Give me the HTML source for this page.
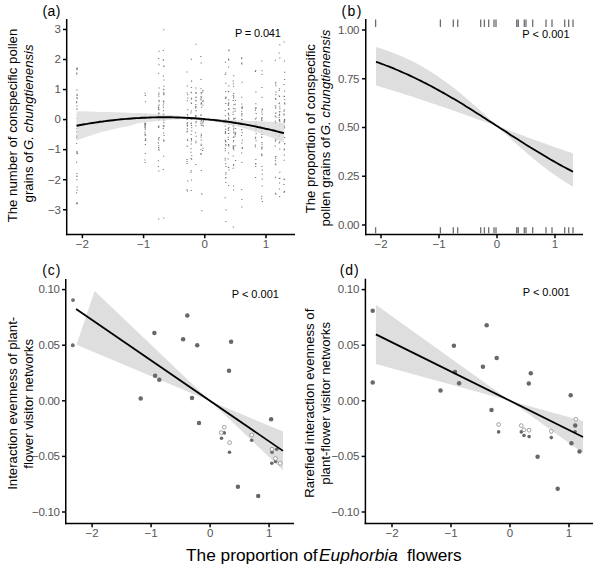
<!DOCTYPE html>
<html><head><meta charset="utf-8"><style>
html,body{margin:0;padding:0;background:#fff;width:600px;height:567px;overflow:hidden}
svg{display:block}
text{font-family:"Liberation Sans", sans-serif}
.tl{font-size:11.5px;fill:#555555}
.pv{font-size:11px;fill:#000}
.pl{font-size:14px;fill:#000}
.yt{font-size:13.2px;fill:#000}
.xt{font-size:17.3px;fill:#000}
</style></head><body>
<svg width="600" height="567" viewBox="0 0 600 567">
<rect width="600" height="567" fill="#fff"/>
<path d="M76.6 67.6h1.2v1.0h-1.2zM76.0 203.6h1.2v1.0h-1.2zM76.1 152.6h1.2v1.0h-1.2zM76.6 189.6h1.2v1.0h-1.2zM76.3 173.1h1.2v1.0h-1.2zM76.6 98.2h1.2v1.0h-1.2zM76.4 108.4h1.2v1.0h-1.2zM76.5 186.4h1.2v1.0h-1.2zM76.0 68.3h1.2v1.0h-1.2zM76.3 179.3h1.2v1.0h-1.2zM76.3 176.0h1.2v1.0h-1.2zM76.6 131.2h1.2v1.0h-1.2zM76.2 108.8h1.2v1.0h-1.2zM76.4 105.5h1.2v1.0h-1.2zM75.9 102.3h1.2v1.0h-1.2zM76.2 128.1h1.2v1.0h-1.2zM76.2 136.2h1.2v1.0h-1.2zM76.0 142.9h1.2v1.0h-1.2zM76.6 203.0h1.2v1.0h-1.2zM76.2 175.4h1.2v1.0h-1.2zM76.7 152.2h1.2v1.0h-1.2zM76.4 202.1h1.2v1.0h-1.2zM76.4 96.9h1.2v1.0h-1.2zM76.4 89.4h1.2v1.0h-1.2zM76.4 150.9h1.2v1.0h-1.2zM76.0 73.6h1.2v1.0h-1.2zM76.3 72.5h1.2v1.0h-1.2zM76.1 137.6h1.2v1.0h-1.2zM76.2 131.0h1.2v1.0h-1.2zM76.0 192.3h1.2v1.0h-1.2zM76.7 153.2h1.2v1.0h-1.2zM76.1 137.5h1.2v1.0h-1.2zM76.4 135.2h1.2v1.0h-1.2zM76.1 101.3h1.2v1.0h-1.2zM76.6 69.2h1.2v1.0h-1.2zM76.4 93.8h1.2v1.0h-1.2zM76.0 161.7h1.2v1.0h-1.2zM76.6 94.9h1.2v1.0h-1.2zM76.7 117.9h1.2v1.0h-1.2zM76.6 68.1h1.2v1.0h-1.2zM144.5 92.8h1.2v1.0h-1.2zM144.6 161.9h1.2v1.0h-1.2zM144.8 94.9h1.2v1.0h-1.2zM144.9 101.3h1.2v1.0h-1.2zM144.3 159.6h1.2v1.0h-1.2zM144.9 138.3h1.2v1.0h-1.2zM144.2 122.4h1.2v1.0h-1.2zM144.8 129.0h1.2v1.0h-1.2zM144.8 153.1h1.2v1.0h-1.2zM144.3 116.6h1.2v1.0h-1.2zM144.5 133.6h1.2v1.0h-1.2zM144.9 140.0h1.2v1.0h-1.2zM144.2 123.8h1.2v1.0h-1.2zM144.7 125.0h1.2v1.0h-1.2zM144.8 143.9h1.2v1.0h-1.2zM144.6 123.1h1.2v1.0h-1.2zM144.8 124.4h1.2v1.0h-1.2zM144.4 131.4h1.2v1.0h-1.2zM144.4 126.4h1.2v1.0h-1.2zM144.5 125.6h1.2v1.0h-1.2zM144.3 115.8h1.2v1.0h-1.2zM144.5 127.6h1.2v1.0h-1.2zM145.0 123.0h1.2v1.0h-1.2zM144.7 140.1h1.2v1.0h-1.2zM144.5 134.6h1.2v1.0h-1.2zM144.4 127.4h1.2v1.0h-1.2zM145.0 134.8h1.2v1.0h-1.2zM144.6 124.1h1.2v1.0h-1.2zM145.0 138.9h1.2v1.0h-1.2zM144.6 127.6h1.2v1.0h-1.2zM144.6 133.9h1.2v1.0h-1.2zM144.9 114.0h1.2v1.0h-1.2zM158.5 50.7h1.2v1.0h-1.2zM158.2 170.6h1.2v1.0h-1.2zM158.5 87.5h1.2v1.0h-1.2zM157.8 166.0h1.2v1.0h-1.2zM157.8 106.6h1.2v1.0h-1.2zM157.8 126.0h1.2v1.0h-1.2zM158.0 126.9h1.2v1.0h-1.2zM158.0 72.7h1.2v1.0h-1.2zM158.0 58.1h1.2v1.0h-1.2zM158.3 100.0h1.2v1.0h-1.2zM157.8 142.3h1.2v1.0h-1.2zM158.3 148.4h1.2v1.0h-1.2zM157.9 138.2h1.2v1.0h-1.2zM158.3 64.3h1.2v1.0h-1.2zM157.8 160.2h1.2v1.0h-1.2zM158.0 146.9h1.2v1.0h-1.2zM158.6 101.3h1.2v1.0h-1.2zM158.2 139.6h1.2v1.0h-1.2zM158.4 109.3h1.2v1.0h-1.2zM158.3 118.4h1.2v1.0h-1.2zM158.3 104.7h1.2v1.0h-1.2zM158.0 107.8h1.2v1.0h-1.2zM158.3 95.8h1.2v1.0h-1.2zM157.8 142.5h1.2v1.0h-1.2zM158.4 116.5h1.2v1.0h-1.2zM158.6 137.1h1.2v1.0h-1.2zM158.5 119.6h1.2v1.0h-1.2zM157.8 106.5h1.2v1.0h-1.2zM158.1 113.3h1.2v1.0h-1.2zM158.1 109.0h1.2v1.0h-1.2zM157.9 119.5h1.2v1.0h-1.2zM158.3 112.4h1.2v1.0h-1.2zM158.4 113.8h1.2v1.0h-1.2zM158.1 93.9h1.2v1.0h-1.2zM158.5 104.4h1.2v1.0h-1.2zM158.4 149.8h1.2v1.0h-1.2zM157.9 106.9h1.2v1.0h-1.2zM158.4 99.9h1.2v1.0h-1.2zM158.5 125.5h1.2v1.0h-1.2zM158.0 145.3h1.2v1.0h-1.2zM158.3 92.5h1.2v1.0h-1.2zM158.3 115.5h1.2v1.0h-1.2zM162.7 50.0h1.2v1.0h-1.2zM162.7 169.0h1.2v1.0h-1.2zM163.3 94.2h1.2v1.0h-1.2zM162.8 114.2h1.2v1.0h-1.2zM162.8 75.6h1.2v1.0h-1.2zM163.3 79.4h1.2v1.0h-1.2zM163.1 89.3h1.2v1.0h-1.2zM162.7 104.4h1.2v1.0h-1.2zM162.9 59.7h1.2v1.0h-1.2zM163.3 139.6h1.2v1.0h-1.2zM162.9 118.9h1.2v1.0h-1.2zM163.2 85.7h1.2v1.0h-1.2zM162.7 59.2h1.2v1.0h-1.2zM163.2 140.8h1.2v1.0h-1.2zM163.2 65.6h1.2v1.0h-1.2zM163.3 65.9h1.2v1.0h-1.2zM163.1 101.0h1.2v1.0h-1.2zM162.9 88.7h1.2v1.0h-1.2zM162.7 128.0h1.2v1.0h-1.2zM163.0 117.6h1.2v1.0h-1.2zM163.2 126.2h1.2v1.0h-1.2zM162.8 100.6h1.2v1.0h-1.2zM162.8 106.7h1.2v1.0h-1.2zM163.0 100.5h1.2v1.0h-1.2zM163.2 102.5h1.2v1.0h-1.2zM163.3 122.3h1.2v1.0h-1.2zM162.7 104.4h1.2v1.0h-1.2zM162.7 125.3h1.2v1.0h-1.2zM163.2 125.0h1.2v1.0h-1.2zM163.1 155.8h1.2v1.0h-1.2zM163.2 93.3h1.2v1.0h-1.2zM163.4 135.0h1.2v1.0h-1.2zM163.4 117.1h1.2v1.0h-1.2zM163.3 118.5h1.2v1.0h-1.2zM163.2 92.2h1.2v1.0h-1.2zM162.9 110.3h1.2v1.0h-1.2zM163.1 132.4h1.2v1.0h-1.2zM162.7 117.2h1.2v1.0h-1.2zM163.2 120.2h1.2v1.0h-1.2zM163.2 113.4h1.2v1.0h-1.2zM163.2 139.9h1.2v1.0h-1.2zM163.0 118.4h1.2v1.0h-1.2zM186.5 71.5h1.2v1.0h-1.2zM186.8 190.6h1.2v1.0h-1.2zM186.4 189.2h1.2v1.0h-1.2zM186.7 85.4h1.2v1.0h-1.2zM186.6 92.6h1.2v1.0h-1.2zM187.0 140.0h1.2v1.0h-1.2zM186.8 124.7h1.2v1.0h-1.2zM186.4 160.9h1.2v1.0h-1.2zM187.2 94.2h1.2v1.0h-1.2zM187.1 180.4h1.2v1.0h-1.2zM187.1 97.4h1.2v1.0h-1.2zM186.6 163.1h1.2v1.0h-1.2zM186.7 128.5h1.2v1.0h-1.2zM186.6 118.9h1.2v1.0h-1.2zM186.5 117.9h1.2v1.0h-1.2zM186.4 158.9h1.2v1.0h-1.2zM186.8 138.8h1.2v1.0h-1.2zM186.5 130.8h1.2v1.0h-1.2zM186.5 123.2h1.2v1.0h-1.2zM187.1 109.2h1.2v1.0h-1.2zM186.8 128.3h1.2v1.0h-1.2zM186.5 145.5h1.2v1.0h-1.2zM186.9 122.3h1.2v1.0h-1.2zM186.6 125.4h1.2v1.0h-1.2zM186.8 125.5h1.2v1.0h-1.2zM186.6 131.5h1.2v1.0h-1.2zM186.8 100.3h1.2v1.0h-1.2zM186.9 125.2h1.2v1.0h-1.2zM186.8 113.9h1.2v1.0h-1.2zM186.7 145.7h1.2v1.0h-1.2zM187.0 115.4h1.2v1.0h-1.2zM187.1 140.1h1.2v1.0h-1.2zM190.8 58.8h1.2v1.0h-1.2zM190.6 190.0h1.2v1.0h-1.2zM191.0 158.7h1.2v1.0h-1.2zM190.4 151.7h1.2v1.0h-1.2zM190.7 170.3h1.2v1.0h-1.2zM190.4 148.2h1.2v1.0h-1.2zM191.1 155.3h1.2v1.0h-1.2zM190.8 98.4h1.2v1.0h-1.2zM190.9 80.8h1.2v1.0h-1.2zM190.5 158.1h1.2v1.0h-1.2zM190.9 80.6h1.2v1.0h-1.2zM190.9 179.4h1.2v1.0h-1.2zM190.8 138.1h1.2v1.0h-1.2zM191.1 127.3h1.2v1.0h-1.2zM190.6 92.2h1.2v1.0h-1.2zM190.6 134.0h1.2v1.0h-1.2zM190.9 86.9h1.2v1.0h-1.2zM191.0 97.8h1.2v1.0h-1.2zM190.6 143.5h1.2v1.0h-1.2zM190.8 140.5h1.2v1.0h-1.2zM190.5 123.2h1.2v1.0h-1.2zM190.7 91.7h1.2v1.0h-1.2zM190.9 118.7h1.2v1.0h-1.2zM190.4 112.5h1.2v1.0h-1.2zM190.9 139.1h1.2v1.0h-1.2zM190.3 171.8h1.2v1.0h-1.2zM191.1 130.6h1.2v1.0h-1.2zM190.7 110.5h1.2v1.0h-1.2zM190.6 102.6h1.2v1.0h-1.2zM190.9 125.1h1.2v1.0h-1.2zM190.7 122.6h1.2v1.0h-1.2zM190.9 103.0h1.2v1.0h-1.2zM195.3 43.7h1.2v1.0h-1.2zM195.2 164.0h1.2v1.0h-1.2zM195.5 110.3h1.2v1.0h-1.2zM195.2 140.8h1.2v1.0h-1.2zM195.3 99.7h1.2v1.0h-1.2zM195.5 118.3h1.2v1.0h-1.2zM195.3 142.2h1.2v1.0h-1.2zM195.2 125.3h1.2v1.0h-1.2zM195.6 120.9h1.2v1.0h-1.2zM195.2 92.6h1.2v1.0h-1.2zM195.6 92.8h1.2v1.0h-1.2zM195.5 135.8h1.2v1.0h-1.2zM195.3 122.2h1.2v1.0h-1.2zM195.5 96.6h1.2v1.0h-1.2zM194.9 106.6h1.2v1.0h-1.2zM195.2 107.4h1.2v1.0h-1.2zM195.6 115.0h1.2v1.0h-1.2zM195.4 106.0h1.2v1.0h-1.2zM195.3 100.6h1.2v1.0h-1.2zM195.4 110.3h1.2v1.0h-1.2zM195.4 96.9h1.2v1.0h-1.2zM195.4 92.1h1.2v1.0h-1.2zM195.2 115.0h1.2v1.0h-1.2zM195.0 132.3h1.2v1.0h-1.2zM195.1 87.6h1.2v1.0h-1.2zM195.1 116.0h1.2v1.0h-1.2zM195.2 103.9h1.2v1.0h-1.2zM200.2 56.0h1.2v1.0h-1.2zM200.7 170.0h1.2v1.0h-1.2zM200.4 98.6h1.2v1.0h-1.2zM200.7 118.2h1.2v1.0h-1.2zM200.5 79.0h1.2v1.0h-1.2zM200.7 92.1h1.2v1.0h-1.2zM200.4 136.5h1.2v1.0h-1.2zM200.6 143.8h1.2v1.0h-1.2zM200.6 62.5h1.2v1.0h-1.2zM200.7 139.5h1.2v1.0h-1.2zM200.4 149.2h1.2v1.0h-1.2zM201.0 106.8h1.2v1.0h-1.2zM200.4 103.5h1.2v1.0h-1.2zM200.4 99.2h1.2v1.0h-1.2zM200.4 88.3h1.2v1.0h-1.2zM200.3 153.1h1.2v1.0h-1.2zM200.5 114.9h1.2v1.0h-1.2zM200.8 124.8h1.2v1.0h-1.2zM200.8 120.0h1.2v1.0h-1.2zM200.4 123.3h1.2v1.0h-1.2zM200.3 121.4h1.2v1.0h-1.2zM200.5 154.0h1.2v1.0h-1.2zM200.8 102.3h1.2v1.0h-1.2zM200.6 93.2h1.2v1.0h-1.2zM200.9 102.8h1.2v1.0h-1.2zM200.7 97.1h1.2v1.0h-1.2zM200.7 133.6h1.2v1.0h-1.2zM200.8 134.9h1.2v1.0h-1.2zM200.8 103.6h1.2v1.0h-1.2zM200.5 96.1h1.2v1.0h-1.2zM200.4 114.3h1.2v1.0h-1.2zM200.6 144.9h1.2v1.0h-1.2zM202.4 90.0h1.2v1.0h-1.2zM202.0 150.0h1.2v1.0h-1.2zM202.4 147.7h1.2v1.0h-1.2zM202.1 91.5h1.2v1.0h-1.2zM202.2 101.0h1.2v1.0h-1.2zM202.6 99.9h1.2v1.0h-1.2zM202.1 118.3h1.2v1.0h-1.2zM202.5 121.3h1.2v1.0h-1.2zM202.3 104.8h1.2v1.0h-1.2zM202.3 124.8h1.2v1.0h-1.2zM202.7 125.4h1.2v1.0h-1.2zM202.1 122.5h1.2v1.0h-1.2zM202.7 120.1h1.2v1.0h-1.2zM202.7 120.6h1.2v1.0h-1.2zM224.8 61.7h1.2v1.0h-1.2zM225.3 221.0h1.2v1.0h-1.2zM225.1 177.1h1.2v1.0h-1.2zM225.3 172.2h1.2v1.0h-1.2zM224.9 128.8h1.2v1.0h-1.2zM224.6 197.3h1.2v1.0h-1.2zM225.2 182.1h1.2v1.0h-1.2zM224.8 115.3h1.2v1.0h-1.2zM224.7 74.0h1.2v1.0h-1.2zM225.2 82.8h1.2v1.0h-1.2zM225.1 91.1h1.2v1.0h-1.2zM224.8 110.1h1.2v1.0h-1.2zM224.8 133.0h1.2v1.0h-1.2zM225.4 209.5h1.2v1.0h-1.2zM224.8 150.3h1.2v1.0h-1.2zM225.2 145.2h1.2v1.0h-1.2zM224.7 139.7h1.2v1.0h-1.2zM225.3 97.6h1.2v1.0h-1.2zM224.7 147.9h1.2v1.0h-1.2zM225.0 163.3h1.2v1.0h-1.2zM224.6 159.4h1.2v1.0h-1.2zM225.0 140.4h1.2v1.0h-1.2zM225.3 96.5h1.2v1.0h-1.2zM224.7 157.8h1.2v1.0h-1.2zM224.8 131.1h1.2v1.0h-1.2zM225.2 72.6h1.2v1.0h-1.2zM225.1 143.9h1.2v1.0h-1.2zM224.9 98.1h1.2v1.0h-1.2zM225.1 102.9h1.2v1.0h-1.2zM225.0 119.1h1.2v1.0h-1.2zM225.3 165.9h1.2v1.0h-1.2zM224.8 125.6h1.2v1.0h-1.2zM225.2 141.3h1.2v1.0h-1.2zM225.1 177.5h1.2v1.0h-1.2zM225.2 173.7h1.2v1.0h-1.2zM224.9 132.1h1.2v1.0h-1.2zM225.2 128.8h1.2v1.0h-1.2zM228.3 49.5h1.2v1.0h-1.2zM228.0 185.0h1.2v1.0h-1.2zM228.0 66.4h1.2v1.0h-1.2zM228.4 169.4h1.2v1.0h-1.2zM227.9 113.7h1.2v1.0h-1.2zM227.6 158.5h1.2v1.0h-1.2zM227.9 58.5h1.2v1.0h-1.2zM227.7 130.1h1.2v1.0h-1.2zM227.7 166.7h1.2v1.0h-1.2zM228.1 167.0h1.2v1.0h-1.2zM228.4 50.3h1.2v1.0h-1.2zM228.1 120.2h1.2v1.0h-1.2zM228.1 99.5h1.2v1.0h-1.2zM227.9 152.5h1.2v1.0h-1.2zM228.1 59.4h1.2v1.0h-1.2zM228.2 85.4h1.2v1.0h-1.2zM228.1 102.5h1.2v1.0h-1.2zM228.2 118.7h1.2v1.0h-1.2zM228.0 118.5h1.2v1.0h-1.2zM227.8 139.0h1.2v1.0h-1.2zM228.1 144.4h1.2v1.0h-1.2zM228.0 91.2h1.2v1.0h-1.2zM227.7 103.5h1.2v1.0h-1.2zM228.1 129.6h1.2v1.0h-1.2zM228.3 108.9h1.2v1.0h-1.2zM227.7 90.9h1.2v1.0h-1.2zM228.0 144.3h1.2v1.0h-1.2zM228.2 132.9h1.2v1.0h-1.2zM227.9 132.9h1.2v1.0h-1.2zM227.8 112.7h1.2v1.0h-1.2zM227.9 144.1h1.2v1.0h-1.2zM228.0 117.6h1.2v1.0h-1.2zM228.1 145.5h1.2v1.0h-1.2zM228.0 103.6h1.2v1.0h-1.2zM227.7 104.8h1.2v1.0h-1.2zM228.3 126.9h1.2v1.0h-1.2zM228.3 108.0h1.2v1.0h-1.2zM227.7 136.7h1.2v1.0h-1.2zM227.8 128.0h1.2v1.0h-1.2zM227.7 103.4h1.2v1.0h-1.2zM228.3 124.1h1.2v1.0h-1.2zM228.3 115.3h1.2v1.0h-1.2zM233.1 75.3h1.2v1.0h-1.2zM232.8 226.6h1.2v1.0h-1.2zM233.2 96.3h1.2v1.0h-1.2zM233.2 118.4h1.2v1.0h-1.2zM232.7 83.2h1.2v1.0h-1.2zM233.1 108.1h1.2v1.0h-1.2zM232.7 95.0h1.2v1.0h-1.2zM232.6 145.6h1.2v1.0h-1.2zM232.9 129.2h1.2v1.0h-1.2zM233.0 164.1h1.2v1.0h-1.2zM233.2 117.8h1.2v1.0h-1.2zM232.6 80.4h1.2v1.0h-1.2zM233.1 125.4h1.2v1.0h-1.2zM232.9 189.6h1.2v1.0h-1.2zM232.6 114.0h1.2v1.0h-1.2zM233.3 136.5h1.2v1.0h-1.2zM233.1 149.6h1.2v1.0h-1.2zM232.6 155.4h1.2v1.0h-1.2zM233.2 131.5h1.2v1.0h-1.2zM232.6 100.1h1.2v1.0h-1.2zM232.6 148.0h1.2v1.0h-1.2zM232.8 122.2h1.2v1.0h-1.2zM233.3 131.8h1.2v1.0h-1.2zM232.5 125.4h1.2v1.0h-1.2zM233.2 131.5h1.2v1.0h-1.2zM233.0 85.7h1.2v1.0h-1.2zM232.6 167.8h1.2v1.0h-1.2zM233.0 145.4h1.2v1.0h-1.2zM232.9 165.3h1.2v1.0h-1.2zM233.0 185.6h1.2v1.0h-1.2zM233.1 140.0h1.2v1.0h-1.2zM233.0 97.5h1.2v1.0h-1.2zM233.3 118.7h1.2v1.0h-1.2zM232.6 111.4h1.2v1.0h-1.2zM233.2 127.8h1.2v1.0h-1.2zM232.8 141.3h1.2v1.0h-1.2zM233.1 92.9h1.2v1.0h-1.2zM233.2 147.4h1.2v1.0h-1.2zM233.3 104.3h1.2v1.0h-1.2zM232.7 146.4h1.2v1.0h-1.2zM232.9 136.9h1.2v1.0h-1.2zM233.3 132.2h1.2v1.0h-1.2zM234.9 100.0h1.2v1.0h-1.2zM235.0 160.0h1.2v1.0h-1.2zM234.6 108.4h1.2v1.0h-1.2zM234.6 103.7h1.2v1.0h-1.2zM234.6 145.2h1.2v1.0h-1.2zM234.6 133.9h1.2v1.0h-1.2zM235.0 120.5h1.2v1.0h-1.2zM234.7 117.8h1.2v1.0h-1.2zM234.7 133.0h1.2v1.0h-1.2zM234.9 123.0h1.2v1.0h-1.2zM234.5 110.7h1.2v1.0h-1.2zM234.5 135.4h1.2v1.0h-1.2zM235.0 128.0h1.2v1.0h-1.2zM235.0 132.3h1.2v1.0h-1.2zM241.1 57.3h1.2v1.0h-1.2zM241.2 206.5h1.2v1.0h-1.2zM241.3 199.1h1.2v1.0h-1.2zM241.1 63.6h1.2v1.0h-1.2zM241.0 135.1h1.2v1.0h-1.2zM241.7 147.0h1.2v1.0h-1.2zM241.3 162.1h1.2v1.0h-1.2zM241.2 107.4h1.2v1.0h-1.2zM241.6 106.2h1.2v1.0h-1.2zM241.0 57.9h1.2v1.0h-1.2zM241.2 62.6h1.2v1.0h-1.2zM241.8 139.4h1.2v1.0h-1.2zM241.7 113.5h1.2v1.0h-1.2zM241.5 132.1h1.2v1.0h-1.2zM241.1 115.2h1.2v1.0h-1.2zM241.3 142.6h1.2v1.0h-1.2zM241.0 113.3h1.2v1.0h-1.2zM241.2 129.1h1.2v1.0h-1.2zM241.0 152.4h1.2v1.0h-1.2zM241.1 189.0h1.2v1.0h-1.2zM241.5 106.8h1.2v1.0h-1.2zM241.1 119.3h1.2v1.0h-1.2zM241.1 110.7h1.2v1.0h-1.2zM241.7 148.0h1.2v1.0h-1.2zM241.3 103.6h1.2v1.0h-1.2zM241.3 118.8h1.2v1.0h-1.2zM241.1 129.3h1.2v1.0h-1.2zM241.6 107.5h1.2v1.0h-1.2zM241.5 108.0h1.2v1.0h-1.2zM241.4 119.0h1.2v1.0h-1.2zM241.5 81.7h1.2v1.0h-1.2zM241.1 96.8h1.2v1.0h-1.2zM255.1 70.0h1.2v1.0h-1.2zM255.0 177.0h1.2v1.0h-1.2zM255.6 113.1h1.2v1.0h-1.2zM255.2 103.3h1.2v1.0h-1.2zM254.9 124.1h1.2v1.0h-1.2zM254.8 70.9h1.2v1.0h-1.2zM255.6 117.4h1.2v1.0h-1.2zM255.3 91.4h1.2v1.0h-1.2zM254.8 146.2h1.2v1.0h-1.2zM255.2 123.8h1.2v1.0h-1.2zM255.2 163.0h1.2v1.0h-1.2zM255.1 165.9h1.2v1.0h-1.2zM255.6 123.9h1.2v1.0h-1.2zM255.6 133.3h1.2v1.0h-1.2zM254.9 138.0h1.2v1.0h-1.2zM254.9 118.6h1.2v1.0h-1.2zM255.1 130.8h1.2v1.0h-1.2zM255.5 121.2h1.2v1.0h-1.2zM255.3 127.7h1.2v1.0h-1.2zM255.4 123.6h1.2v1.0h-1.2zM255.3 107.0h1.2v1.0h-1.2zM255.0 125.4h1.2v1.0h-1.2zM255.5 140.2h1.2v1.0h-1.2zM254.8 109.8h1.2v1.0h-1.2zM255.4 121.8h1.2v1.0h-1.2zM255.0 136.7h1.2v1.0h-1.2zM255.2 108.1h1.2v1.0h-1.2zM255.6 128.8h1.2v1.0h-1.2zM255.2 108.3h1.2v1.0h-1.2zM254.8 144.4h1.2v1.0h-1.2zM255.1 163.8h1.2v1.0h-1.2zM255.3 159.0h1.2v1.0h-1.2zM261.1 60.4h1.2v1.0h-1.2zM261.8 201.0h1.2v1.0h-1.2zM261.2 136.6h1.2v1.0h-1.2zM261.7 113.7h1.2v1.0h-1.2zM261.7 109.6h1.2v1.0h-1.2zM261.5 70.2h1.2v1.0h-1.2zM261.4 96.7h1.2v1.0h-1.2zM261.2 148.0h1.2v1.0h-1.2zM261.4 74.1h1.2v1.0h-1.2zM261.2 154.5h1.2v1.0h-1.2zM261.1 195.7h1.2v1.0h-1.2zM261.1 198.3h1.2v1.0h-1.2zM261.6 185.4h1.2v1.0h-1.2zM261.7 173.8h1.2v1.0h-1.2zM261.1 137.0h1.2v1.0h-1.2zM261.0 128.7h1.2v1.0h-1.2zM261.2 117.8h1.2v1.0h-1.2zM261.1 118.7h1.2v1.0h-1.2zM261.2 130.8h1.2v1.0h-1.2zM261.5 130.0h1.2v1.0h-1.2zM261.3 117.1h1.2v1.0h-1.2zM261.3 120.1h1.2v1.0h-1.2zM261.2 153.4h1.2v1.0h-1.2zM261.5 134.0h1.2v1.0h-1.2zM261.2 148.5h1.2v1.0h-1.2zM261.3 155.3h1.2v1.0h-1.2zM261.4 142.1h1.2v1.0h-1.2zM261.7 178.5h1.2v1.0h-1.2zM261.2 111.5h1.2v1.0h-1.2zM261.6 146.8h1.2v1.0h-1.2zM261.2 122.5h1.2v1.0h-1.2zM261.7 169.5h1.2v1.0h-1.2zM261.3 166.1h1.2v1.0h-1.2zM261.4 87.1h1.2v1.0h-1.2zM261.7 108.4h1.2v1.0h-1.2zM261.5 143.7h1.2v1.0h-1.2zM261.1 146.4h1.2v1.0h-1.2zM274.8 59.8h1.2v1.0h-1.2zM275.3 193.8h1.2v1.0h-1.2zM274.9 157.8h1.2v1.0h-1.2zM275.2 94.2h1.2v1.0h-1.2zM274.9 192.7h1.2v1.0h-1.2zM275.3 156.3h1.2v1.0h-1.2zM275.4 116.6h1.2v1.0h-1.2zM274.6 115.4h1.2v1.0h-1.2zM275.4 164.2h1.2v1.0h-1.2zM275.1 83.3h1.2v1.0h-1.2zM274.7 145.5h1.2v1.0h-1.2zM275.0 156.1h1.2v1.0h-1.2zM274.6 129.0h1.2v1.0h-1.2zM275.0 176.8h1.2v1.0h-1.2zM274.7 122.6h1.2v1.0h-1.2zM274.9 122.1h1.2v1.0h-1.2zM274.8 122.8h1.2v1.0h-1.2zM275.1 81.7h1.2v1.0h-1.2zM275.3 135.1h1.2v1.0h-1.2zM275.3 112.4h1.2v1.0h-1.2zM274.9 112.7h1.2v1.0h-1.2zM275.1 122.9h1.2v1.0h-1.2zM274.6 133.0h1.2v1.0h-1.2zM274.9 97.9h1.2v1.0h-1.2zM275.4 91.4h1.2v1.0h-1.2zM274.7 105.4h1.2v1.0h-1.2zM275.3 85.3h1.2v1.0h-1.2zM275.1 107.5h1.2v1.0h-1.2zM274.8 160.2h1.2v1.0h-1.2zM275.2 105.6h1.2v1.0h-1.2zM274.8 140.8h1.2v1.0h-1.2zM275.3 99.1h1.2v1.0h-1.2zM274.7 133.6h1.2v1.0h-1.2zM274.7 120.8h1.2v1.0h-1.2zM275.2 126.2h1.2v1.0h-1.2zM275.0 139.1h1.2v1.0h-1.2zM274.7 163.6h1.2v1.0h-1.2zM275.0 131.4h1.2v1.0h-1.2zM274.8 130.0h1.2v1.0h-1.2zM275.0 107.3h1.2v1.0h-1.2zM275.2 139.4h1.2v1.0h-1.2zM275.3 122.3h1.2v1.0h-1.2zM279.2 44.3h1.2v1.0h-1.2zM279.1 196.0h1.2v1.0h-1.2zM278.9 88.3h1.2v1.0h-1.2zM279.2 57.5h1.2v1.0h-1.2zM278.9 114.4h1.2v1.0h-1.2zM279.3 177.8h1.2v1.0h-1.2zM278.7 135.0h1.2v1.0h-1.2zM278.6 52.4h1.2v1.0h-1.2zM279.2 111.1h1.2v1.0h-1.2zM278.7 102.6h1.2v1.0h-1.2zM279.2 132.7h1.2v1.0h-1.2zM279.0 133.4h1.2v1.0h-1.2zM278.9 188.6h1.2v1.0h-1.2zM278.6 95.6h1.2v1.0h-1.2zM279.1 106.2h1.2v1.0h-1.2zM278.6 137.4h1.2v1.0h-1.2zM279.3 108.2h1.2v1.0h-1.2zM279.2 171.7h1.2v1.0h-1.2zM278.7 178.0h1.2v1.0h-1.2zM278.6 89.9h1.2v1.0h-1.2zM279.2 131.1h1.2v1.0h-1.2zM278.9 182.6h1.2v1.0h-1.2zM278.6 142.4h1.2v1.0h-1.2zM278.9 129.2h1.2v1.0h-1.2zM278.7 119.2h1.2v1.0h-1.2zM278.8 111.4h1.2v1.0h-1.2zM279.0 119.1h1.2v1.0h-1.2zM279.2 111.2h1.2v1.0h-1.2zM279.1 141.5h1.2v1.0h-1.2zM278.6 114.8h1.2v1.0h-1.2zM278.9 113.8h1.2v1.0h-1.2zM278.9 96.0h1.2v1.0h-1.2zM279.3 122.9h1.2v1.0h-1.2zM278.6 103.2h1.2v1.0h-1.2zM278.9 119.9h1.2v1.0h-1.2zM279.2 148.4h1.2v1.0h-1.2zM278.8 132.6h1.2v1.0h-1.2zM278.7 135.9h1.2v1.0h-1.2zM278.9 132.4h1.2v1.0h-1.2zM278.8 125.5h1.2v1.0h-1.2zM279.2 121.1h1.2v1.0h-1.2zM278.6 116.9h1.2v1.0h-1.2zM283.5 41.4h1.2v1.0h-1.2zM283.4 191.7h1.2v1.0h-1.2zM284.1 99.1h1.2v1.0h-1.2zM283.9 191.1h1.2v1.0h-1.2zM283.9 125.5h1.2v1.0h-1.2zM284.0 119.8h1.2v1.0h-1.2zM283.4 183.9h1.2v1.0h-1.2zM283.5 84.1h1.2v1.0h-1.2zM283.8 191.6h1.2v1.0h-1.2zM283.4 178.5h1.2v1.0h-1.2zM283.8 96.1h1.2v1.0h-1.2zM284.0 90.6h1.2v1.0h-1.2zM283.9 60.4h1.2v1.0h-1.2zM283.9 179.0h1.2v1.0h-1.2zM283.4 95.7h1.2v1.0h-1.2zM283.6 159.7h1.2v1.0h-1.2zM284.1 71.7h1.2v1.0h-1.2zM283.5 114.5h1.2v1.0h-1.2zM283.8 127.3h1.2v1.0h-1.2zM283.4 113.6h1.2v1.0h-1.2zM284.2 103.6h1.2v1.0h-1.2zM283.5 120.9h1.2v1.0h-1.2zM283.7 122.2h1.2v1.0h-1.2zM283.8 120.4h1.2v1.0h-1.2zM284.0 78.9h1.2v1.0h-1.2zM284.1 118.9h1.2v1.0h-1.2zM284.0 102.5h1.2v1.0h-1.2zM283.7 109.6h1.2v1.0h-1.2zM283.5 127.5h1.2v1.0h-1.2zM284.0 137.1h1.2v1.0h-1.2zM284.2 143.0h1.2v1.0h-1.2zM283.4 110.8h1.2v1.0h-1.2zM284.0 143.6h1.2v1.0h-1.2zM283.5 149.4h1.2v1.0h-1.2zM283.8 148.6h1.2v1.0h-1.2zM283.8 154.4h1.2v1.0h-1.2zM283.9 118.9h1.2v1.0h-1.2z" fill="#7a7a7a"/>
<path d="M158 218.5h1.4v1.1h-1.4zM163 217.5h1.4v1.1h-1.4zM163 29.2h1.4v1.1h-1.4zM201 193.3h1.4v1.1h-1.4zM201 210.2h1.4v1.1h-1.4z" fill="#8a8a8a"/>
<polygon points="76.5,111.2 79.1,111.2 81.8,111.3 84.4,111.3 87.0,111.4 89.6,111.5 92.3,111.6 94.9,111.8 97.5,111.9 100.1,112.0 102.8,112.0 105.4,112.1 108.0,112.1 110.6,112.1 113.3,112.2 115.9,112.2 118.5,112.3 121.2,112.4 123.8,112.6 126.4,112.7 129.0,112.8 131.7,112.9 134.3,113.0 136.9,113.0 139.5,113.1 142.2,113.2 144.8,113.3 147.4,113.5 150.0,113.6 152.7,113.8 155.3,114.0 157.9,114.2 160.6,114.4 163.2,114.5 165.8,114.7 168.4,114.9 171.1,115.1 173.7,115.4 176.3,115.6 178.9,115.9 181.6,116.2 184.2,116.5 186.8,116.7 189.4,116.8 192.1,117.0 194.7,117.1 197.3,117.3 199.9,117.5 202.6,117.7 205.2,118.0 207.8,118.2 210.5,118.4 213.1,118.6 215.7,118.7 218.3,118.9 221.0,119.1 223.6,119.3 226.2,119.5 228.8,119.7 231.5,120.0 234.1,120.2 236.7,120.4 239.3,120.4 242.0,120.5 244.6,120.6 247.2,120.8 249.9,120.9 252.5,121.0 255.1,121.1 257.7,121.2 260.4,121.3 263.0,121.4 265.6,121.6 268.2,121.7 270.9,121.9 273.5,122.1 276.1,122.3 278.7,122.5 281.4,122.7 284.0,122.9 284.0,142.5 281.4,141.5 278.7,140.4 276.1,139.4 273.5,138.4 270.9,137.4 268.2,136.4 265.6,135.4 263.0,134.4 260.4,133.5 257.7,132.6 255.1,131.7 252.5,130.8 249.9,130.0 247.2,129.2 244.6,128.4 242.0,127.7 239.3,127.0 236.7,126.3 234.1,125.6 231.5,125.0 228.8,124.5 226.2,123.9 223.6,123.4 221.0,122.8 218.3,122.3 215.7,121.8 213.1,121.4 210.5,120.9 207.8,120.6 205.2,120.4 202.6,120.1 199.9,119.9 197.3,119.7 194.7,119.5 192.1,119.4 189.4,119.2 186.8,119.1 184.2,119.0 181.6,119.1 178.9,119.3 176.3,119.5 173.7,119.6 171.1,119.8 168.4,120.0 165.8,120.3 163.2,120.5 160.6,120.8 157.9,121.0 155.3,121.2 152.7,121.4 150.0,121.7 147.4,121.9 144.8,122.2 142.2,122.5 139.5,122.9 136.9,123.6 134.3,124.4 131.7,125.2 129.0,125.9 126.4,126.4 123.8,126.9 121.2,127.5 118.5,128.1 115.9,128.7 113.3,129.3 110.6,129.9 108.0,130.5 105.4,131.2 102.8,131.8 100.1,132.5 97.5,133.3 94.9,134.2 92.3,135.0 89.6,135.9 87.0,136.8 84.4,137.7 81.8,138.6 79.1,139.5 76.5,140.5" fill="#DEDEDE" fill-opacity="0.85"/>
<polyline points="76.5,125.8 79.1,125.3 81.8,124.8 84.4,124.3 87.0,123.9 89.6,123.4 92.3,123.0 94.9,122.6 97.5,122.2 100.1,121.8 102.8,121.5 105.4,121.1 108.0,120.8 110.6,120.5 113.3,120.2 115.9,119.9 118.5,119.6 121.2,119.3 123.8,119.1 126.4,118.9 129.0,118.7 131.7,118.5 134.3,118.3 136.9,118.1 139.5,118.0 142.2,117.8 144.8,117.7 147.4,117.6 150.0,117.5 152.7,117.4 155.3,117.4 157.9,117.3 160.6,117.3 163.2,117.3 165.8,117.3 168.4,117.3 171.1,117.3 173.7,117.4 176.3,117.5 178.9,117.5 181.6,117.6 184.2,117.7 186.8,117.9 189.4,118.0 192.1,118.2 194.7,118.3 197.3,118.5 199.9,118.7 202.6,118.9 205.2,119.2 207.8,119.4 210.5,119.7 213.1,119.9 215.7,120.2 218.3,120.5 221.0,120.9 223.6,121.2 226.2,121.5 228.8,121.9 231.5,122.3 234.1,122.7 236.7,123.1 239.3,123.5 242.0,124.0 244.6,124.4 247.2,124.9 249.9,125.4 252.5,125.9 255.1,126.4 257.7,127.0 260.4,127.5 263.0,128.1 265.6,128.7 268.2,129.2 270.9,129.9 273.5,130.5 276.1,131.1 278.7,131.8 281.4,132.5 284.0,133.1" fill="none" stroke="#000" stroke-width="1.9"/>
<line x1="66.7" y1="19" x2="66.7" y2="235.2" stroke="#000" stroke-width="1.5"/>
<line x1="63.0" y1="29.44999999999999" x2="66.7" y2="29.44999999999999" stroke="#000" stroke-width="1.5"/>
<text x="60.599999999999994" y="33.249999999999986" text-anchor="end" class="tl" letter-spacing="-0.3">3</text>
<line x1="63.0" y1="59.49999999999999" x2="66.7" y2="59.49999999999999" stroke="#000" stroke-width="1.5"/>
<text x="60.599999999999994" y="63.29999999999999" text-anchor="end" class="tl" letter-spacing="-0.3">2</text>
<line x1="63.0" y1="89.55" x2="66.7" y2="89.55" stroke="#000" stroke-width="1.5"/>
<text x="60.599999999999994" y="93.35" text-anchor="end" class="tl" letter-spacing="-0.3">1</text>
<line x1="63.0" y1="119.6" x2="66.7" y2="119.6" stroke="#000" stroke-width="1.5"/>
<text x="60.599999999999994" y="123.39999999999999" text-anchor="end" class="tl" letter-spacing="-0.3">0</text>
<line x1="63.0" y1="149.65" x2="66.7" y2="149.65" stroke="#000" stroke-width="1.5"/>
<text x="60.599999999999994" y="153.45000000000002" text-anchor="end" class="tl" letter-spacing="-0.3">−1</text>
<line x1="63.0" y1="179.7" x2="66.7" y2="179.7" stroke="#000" stroke-width="1.5"/>
<text x="60.599999999999994" y="183.5" text-anchor="end" class="tl" letter-spacing="-0.3">−2</text>
<line x1="63.0" y1="209.75" x2="66.7" y2="209.75" stroke="#000" stroke-width="1.5"/>
<text x="60.599999999999994" y="213.55" text-anchor="end" class="tl" letter-spacing="-0.3">−3</text>
<line x1="66.0" y1="234.5" x2="295" y2="234.5" stroke="#000" stroke-width="1.5"/>
<line x1="82.4" y1="234.5" x2="82.4" y2="238.2" stroke="#000" stroke-width="1.5"/>
<text x="82.4" y="248.2" text-anchor="middle" class="tl">−2</text>
<line x1="143.60000000000002" y1="234.5" x2="143.60000000000002" y2="238.2" stroke="#000" stroke-width="1.5"/>
<text x="143.60000000000002" y="248.2" text-anchor="middle" class="tl">−1</text>
<line x1="204.8" y1="234.5" x2="204.8" y2="238.2" stroke="#000" stroke-width="1.5"/>
<text x="204.8" y="248.2" text-anchor="middle" class="tl">0</text>
<line x1="266.0" y1="234.5" x2="266.0" y2="238.2" stroke="#000" stroke-width="1.5"/>
<text x="266.0" y="248.2" text-anchor="middle" class="tl">1</text>
<text x="280.8" y="37.2" text-anchor="end" class="pv" letter-spacing="-0.15">P = 0.041</text>
<text x="42.6" y="16.4" class="pl" letter-spacing="0.3">(a)</text>
<text transform="translate(17.3,125.5) rotate(-90)" text-anchor="middle" class="yt">The number of conspecific pollen</text>
<text transform="translate(33.3,123.4) rotate(-90)" text-anchor="middle" class="yt">grains of<tspan dx="1.8" font-style="italic">G. chungtienensis</tspan></text>
<path d="M375.6 19.5V27M375.6 227.3V233.3M440.4 19.5V27M440.4 227.3V233.3M453.3 19.5V27M453.3 227.3V233.3M457.7 19.5V27M457.7 227.3V233.3M480.7 19.5V27M480.7 227.3V233.3M484.4 19.5V27M484.4 227.3V233.3M488.7 19.5V27M488.7 227.3V233.3M494 19.5V27M494 227.3V233.3M496 19.5V27M496 227.3V233.3M516.7 19.5V27M516.7 227.3V233.3M518.3 19.5V27M518.3 227.3V233.3M524.3 19.5V27M524.3 227.3V233.3M526 19.5V27M526 227.3V233.3M532.7 19.5V27M532.7 227.3V233.3M546 19.5V27M546 227.3V233.3M552 19.5V27M552 227.3V233.3M564.7 19.5V27M564.7 227.3V233.3M568.7 19.5V27M568.7 227.3V233.3M573 19.5V27M573 227.3V233.3" stroke="#6e6e6e" stroke-width="1.3" fill="none"/>
<polygon points="376.0,46.9 378.5,47.7 381.0,48.5 383.5,49.3 386.0,50.2 388.5,51.0 391.0,51.9 393.5,52.9 396.0,53.9 398.5,54.9 400.9,56.0 403.4,57.1 405.9,58.2 408.4,59.4 410.9,60.6 413.4,61.8 415.9,63.1 418.4,64.5 420.9,65.8 423.4,67.3 425.9,68.7 428.4,70.2 430.9,71.8 433.4,73.4 435.9,75.0 438.3,76.7 440.8,78.4 443.3,80.2 445.8,82.0 448.3,83.8 450.8,85.7 453.3,87.6 455.8,89.6 458.3,91.6 460.8,93.6 463.3,95.7 465.8,97.7 468.3,99.9 470.8,102.0 473.2,104.2 475.7,106.4 478.2,108.6 480.7,110.9 483.2,113.1 485.7,115.4 488.2,117.7 490.7,119.9 493.2,122.1 495.7,124.1 498.2,125.8 500.7,127.0 503.2,128.1 505.7,129.1 508.2,130.0 510.6,131.0 513.1,131.9 515.6,132.8 518.1,133.8 520.6,134.7 523.1,135.6 525.6,136.5 528.1,137.4 530.6,138.4 533.1,139.3 535.6,140.2 538.1,141.1 540.6,142.0 543.1,142.9 545.6,143.8 548.0,144.7 550.5,145.6 553.0,146.5 555.5,147.4 558.0,148.3 560.5,149.1 563.0,150.0 565.5,150.9 568.0,151.7 570.5,152.6 573.0,153.5 573.0,186.8 570.5,185.3 568.0,183.8 565.5,182.2 563.0,180.6 560.5,179.0 558.0,177.3 555.5,175.6 553.0,173.8 550.5,172.0 548.0,170.2 545.6,168.3 543.1,166.4 540.6,164.4 538.1,162.4 535.6,160.4 533.1,158.4 530.6,156.3 528.1,154.2 525.6,152.0 523.1,149.8 520.6,147.7 518.1,145.4 515.6,143.2 513.1,141.0 510.6,138.7 508.2,136.5 505.7,134.2 503.2,132.0 500.7,129.8 498.2,127.8 495.7,126.2 493.2,125.0 490.7,124.0 488.2,123.1 485.7,122.1 483.2,121.2 480.7,120.3 478.2,119.4 475.7,118.5 473.2,117.6 470.8,116.7 468.3,115.8 465.8,115.0 463.3,114.1 460.8,113.2 458.3,112.3 455.8,111.4 453.3,110.6 450.8,109.7 448.3,108.8 445.8,108.0 443.3,107.1 440.8,106.3 438.3,105.4 435.9,104.6 433.4,103.7 430.9,102.9 428.4,102.0 425.9,101.2 423.4,100.4 420.9,99.5 418.4,98.7 415.9,97.9 413.4,97.1 410.9,96.3 408.4,95.5 405.9,94.7 403.4,93.9 400.9,93.1 398.5,92.3 396.0,91.6 393.5,90.8 391.0,90.0 388.5,89.3 386.0,88.5 383.5,87.8 381.0,87.0 378.5,86.3 376.0,85.5" fill="#DEDEDE"/>
<polyline points="376.0,61.8 378.5,62.7 381.0,63.6 383.5,64.5 386.0,65.5 388.5,66.4 391.0,67.4 393.5,68.4 396.0,69.5 398.5,70.5 400.9,71.6 403.4,72.7 405.9,73.8 408.4,74.9 410.9,76.1 413.4,77.3 415.9,78.5 418.4,79.7 420.9,80.9 423.4,82.2 425.9,83.4 428.4,84.7 430.9,86.0 433.4,87.4 435.9,88.7 438.3,90.1 440.8,91.5 443.3,92.9 445.8,94.3 448.3,95.7 450.8,97.2 453.3,98.6 455.8,100.1 458.3,101.6 460.8,103.1 463.3,104.6 465.8,106.2 468.3,107.7 470.8,109.3 473.2,110.8 475.7,112.4 478.2,114.0 480.7,115.6 483.2,117.2 485.7,118.8 488.2,120.4 490.7,122.0 493.2,123.6 495.7,125.2 498.2,126.8 500.7,128.4 503.2,130.0 505.7,131.6 508.2,133.3 510.6,134.9 513.1,136.5 515.6,138.1 518.1,139.6 520.6,141.2 523.1,142.8 525.6,144.4 528.1,145.9 530.6,147.5 533.1,149.0 535.6,150.6 538.1,152.1 540.6,153.6 543.1,155.1 545.6,156.6 548.0,158.0 550.5,159.5 553.0,160.9 555.5,162.3 558.0,163.7 560.5,165.1 563.0,166.5 565.5,167.8 568.0,169.1 570.5,170.4 573.0,171.7" fill="none" stroke="#000" stroke-width="1.8"/>
<line x1="365.75" y1="19" x2="365.75" y2="235.2" stroke="#000" stroke-width="1.5"/>
<line x1="362.05" y1="30" x2="365.75" y2="30" stroke="#000" stroke-width="1.5"/>
<text x="359.1" y="33.8" text-anchor="end" class="tl" letter-spacing="-0.3">1.00</text>
<line x1="362.05" y1="78.75" x2="365.75" y2="78.75" stroke="#000" stroke-width="1.5"/>
<text x="359.1" y="82.55" text-anchor="end" class="tl" letter-spacing="-0.3">0.75</text>
<line x1="362.05" y1="127.5" x2="365.75" y2="127.5" stroke="#000" stroke-width="1.5"/>
<text x="359.1" y="131.3" text-anchor="end" class="tl" letter-spacing="-0.3">0.50</text>
<line x1="362.05" y1="176.25" x2="365.75" y2="176.25" stroke="#000" stroke-width="1.5"/>
<text x="359.1" y="180.05" text-anchor="end" class="tl" letter-spacing="-0.3">0.25</text>
<line x1="362.05" y1="225" x2="365.75" y2="225" stroke="#000" stroke-width="1.5"/>
<text x="359.1" y="228.8" text-anchor="end" class="tl" letter-spacing="-0.3">0.00</text>
<line x1="365.0" y1="234.5" x2="583" y2="234.5" stroke="#000" stroke-width="1.5"/>
<line x1="381" y1="234.5" x2="381" y2="238.2" stroke="#000" stroke-width="1.5"/>
<text x="381" y="248.2" text-anchor="middle" class="tl">−2</text>
<line x1="439" y1="234.5" x2="439" y2="238.2" stroke="#000" stroke-width="1.5"/>
<text x="439" y="248.2" text-anchor="middle" class="tl">−1</text>
<line x1="497" y1="234.5" x2="497" y2="238.2" stroke="#000" stroke-width="1.5"/>
<text x="497" y="248.2" text-anchor="middle" class="tl">0</text>
<line x1="555" y1="234.5" x2="555" y2="238.2" stroke="#000" stroke-width="1.5"/>
<text x="555" y="248.2" text-anchor="middle" class="tl">1</text>
<text x="569.5" y="37.7" text-anchor="end" class="pv">P &lt; 0.001</text>
<text x="341.5" y="16.4" class="pl" letter-spacing="1.4">(b)</text>
<text transform="translate(314.9,128.7) rotate(-90)" text-anchor="middle" class="yt">The proportion of conspecific</text>
<text transform="translate(330.2,128.1) rotate(-90)" text-anchor="middle" class="yt">pollen grains of<tspan dx="1.8" font-style="italic">G. chungtienensis</tspan></text>
<polygon points="94.6,291.1 210.1,400.9 283.0,431.6 283.0,470.3 210.1,400.9 76.5,344.7" fill="#DEDEDE"/>
<circle cx="154.4" cy="333" r="2.25" fill="#686868"/>
<circle cx="155.1" cy="375.7" r="2.25" fill="#686868"/>
<circle cx="159.3" cy="379.7" r="2.25" fill="#686868"/>
<circle cx="187.3" cy="315.6" r="2.25" fill="#686868"/>
<circle cx="183.1" cy="339.3" r="2.25" fill="#686868"/>
<circle cx="197.2" cy="345.2" r="2.25" fill="#686868"/>
<circle cx="231.1" cy="341.8" r="2.25" fill="#686868"/>
<circle cx="229" cy="370.8" r="2.25" fill="#686868"/>
<circle cx="140.7" cy="398.5" r="2.25" fill="#686868"/>
<circle cx="192" cy="397.9" r="2.25" fill="#686868"/>
<circle cx="199" cy="422.9" r="2.25" fill="#686868"/>
<circle cx="271.1" cy="419.2" r="2.25" fill="#686868"/>
<circle cx="237.9" cy="486.7" r="2.25" fill="#686868"/>
<circle cx="258.2" cy="495.9" r="2.25" fill="#686868"/>
<circle cx="224.3" cy="432.9" r="1.8" fill="#686868"/>
<circle cx="221.5" cy="438.2" r="1.8" fill="#686868"/>
<circle cx="229.5" cy="452.3" r="1.8" fill="#686868"/>
<circle cx="251.7" cy="440.3" r="1.8" fill="#686868"/>
<circle cx="272" cy="452.3" r="1.8" fill="#686868"/>
<circle cx="276.7" cy="449.2" r="1.8" fill="#686868"/>
<circle cx="275.5" cy="461.5" r="1.8" fill="#686868"/>
<circle cx="271.8" cy="463.3" r="1.8" fill="#686868"/>
<circle cx="224.3" cy="427.3" r="1.9" fill="#fff" stroke="#8a8a8a" stroke-width="0.8"/>
<circle cx="221.2" cy="432.6" r="1.9" fill="#fff" stroke="#8a8a8a" stroke-width="0.8"/>
<circle cx="229.6" cy="442.6" r="1.9" fill="#fff" stroke="#8a8a8a" stroke-width="0.8"/>
<circle cx="251.7" cy="435" r="1.9" fill="#fff" stroke="#8a8a8a" stroke-width="0.8"/>
<circle cx="272" cy="449.2" r="1.9" fill="#fff" stroke="#8a8a8a" stroke-width="0.8"/>
<circle cx="275.5" cy="458.5" r="1.9" fill="#fff" stroke="#8a8a8a" stroke-width="0.8"/>
<circle cx="280.2" cy="463.3" r="1.9" fill="#fff" stroke="#8a8a8a" stroke-width="0.8"/>
<circle cx="73" cy="300.1" r="1.95" fill="#6e6e6e"/>
<circle cx="72.8" cy="345.2" r="1.95" fill="#6e6e6e"/>
<line x1="76.1" y1="309" x2="283" y2="450.9" stroke="#000" stroke-width="1.75"/>
<line x1="65.75" y1="279" x2="65.75" y2="524.2" stroke="#000" stroke-width="1.5"/>
<line x1="62.05" y1="289.6" x2="65.75" y2="289.6" stroke="#000" stroke-width="1.5"/>
<text x="59.599999999999994" y="293.40000000000003" text-anchor="end" class="tl" letter-spacing="-0.3">0.10</text>
<line x1="62.05" y1="345.2" x2="65.75" y2="345.2" stroke="#000" stroke-width="1.5"/>
<text x="59.599999999999994" y="349.0" text-anchor="end" class="tl" letter-spacing="-0.3">0.05</text>
<line x1="62.05" y1="400.8" x2="65.75" y2="400.8" stroke="#000" stroke-width="1.5"/>
<text x="59.599999999999994" y="404.6" text-anchor="end" class="tl" letter-spacing="-0.3">0.00</text>
<line x1="62.05" y1="456.40000000000003" x2="65.75" y2="456.40000000000003" stroke="#000" stroke-width="1.5"/>
<text x="59.599999999999994" y="460.20000000000005" text-anchor="end" class="tl" letter-spacing="-0.3">−0.05</text>
<line x1="62.05" y1="512.0" x2="65.75" y2="512.0" stroke="#000" stroke-width="1.5"/>
<text x="59.599999999999994" y="515.8" text-anchor="end" class="tl" letter-spacing="-0.3">−0.10</text>
<line x1="65.0" y1="523.5" x2="294" y2="523.5" stroke="#000" stroke-width="1.5"/>
<line x1="92.1" y1="523.5" x2="92.1" y2="527.2" stroke="#000" stroke-width="1.5"/>
<text x="92.1" y="537.2" text-anchor="middle" class="tl">−2</text>
<line x1="151.1" y1="523.5" x2="151.1" y2="527.2" stroke="#000" stroke-width="1.5"/>
<text x="151.1" y="537.2" text-anchor="middle" class="tl">−1</text>
<line x1="210.1" y1="523.5" x2="210.1" y2="527.2" stroke="#000" stroke-width="1.5"/>
<text x="210.1" y="537.2" text-anchor="middle" class="tl">0</text>
<line x1="269.1" y1="523.5" x2="269.1" y2="527.2" stroke="#000" stroke-width="1.5"/>
<text x="269.1" y="537.2" text-anchor="middle" class="tl">1</text>
<text x="278.9" y="298.3" text-anchor="end" class="pv">P &lt; 0.001</text>
<text x="42.2" y="275.2" class="pl" letter-spacing="0.9">(c)</text>
<text transform="translate(17.4,403.3) rotate(-90)" text-anchor="middle" class="yt">Interaction evenness of plant-</text>
<text transform="translate(33.3,403.8) rotate(-90)" text-anchor="middle" class="yt">flower visitor networks</text>
<polygon points="375.9,304.8 510.0,400.8 583.0,420.9 583.0,453.1 510.0,400.8 375.9,364.0" fill="#DEDEDE"/>
<circle cx="372.7" cy="310.7" r="2.25" fill="#686868"/>
<circle cx="372.7" cy="382.5" r="2.25" fill="#686868"/>
<circle cx="453.9" cy="345.8" r="2.25" fill="#686868"/>
<circle cx="455" cy="372" r="2.25" fill="#686868"/>
<circle cx="459.1" cy="383.3" r="2.25" fill="#686868"/>
<circle cx="440.5" cy="390.6" r="2.25" fill="#686868"/>
<circle cx="486.7" cy="325.2" r="2.25" fill="#686868"/>
<circle cx="496.7" cy="357.9" r="2.25" fill="#686868"/>
<circle cx="482.9" cy="366.7" r="2.25" fill="#686868"/>
<circle cx="530.8" cy="373.3" r="2.25" fill="#686868"/>
<circle cx="528.8" cy="383.4" r="2.25" fill="#686868"/>
<circle cx="570.7" cy="395.3" r="2.25" fill="#686868"/>
<circle cx="491.5" cy="410" r="2.25" fill="#686868"/>
<circle cx="575.2" cy="425.4" r="2.25" fill="#686868"/>
<circle cx="571.4" cy="443.3" r="2.25" fill="#686868"/>
<circle cx="579.5" cy="451.4" r="2.25" fill="#686868"/>
<circle cx="537.6" cy="456.7" r="2.25" fill="#686868"/>
<circle cx="557.7" cy="488.8" r="2.25" fill="#686868"/>
<circle cx="498.6" cy="431.9" r="1.8" fill="#686868"/>
<circle cx="521.3" cy="431.9" r="1.8" fill="#686868"/>
<circle cx="524" cy="435.5" r="1.8" fill="#686868"/>
<circle cx="529.1" cy="436.6" r="1.8" fill="#686868"/>
<circle cx="551.3" cy="437.6" r="1.8" fill="#686868"/>
<circle cx="575.1" cy="431.7" r="1.8" fill="#686868"/>
<circle cx="498.6" cy="424.5" r="1.9" fill="#fff" stroke="#8a8a8a" stroke-width="0.8"/>
<circle cx="521.3" cy="425.6" r="1.9" fill="#fff" stroke="#8a8a8a" stroke-width="0.8"/>
<circle cx="524" cy="429.8" r="1.9" fill="#fff" stroke="#8a8a8a" stroke-width="0.8"/>
<circle cx="529.1" cy="430.2" r="1.9" fill="#fff" stroke="#8a8a8a" stroke-width="0.8"/>
<circle cx="551.3" cy="431.3" r="1.9" fill="#fff" stroke="#8a8a8a" stroke-width="0.8"/>
<circle cx="575.9" cy="419.3" r="1.9" fill="#fff" stroke="#8a8a8a" stroke-width="0.8"/>
<line x1="375.9" y1="334.4" x2="583" y2="437.0" stroke="#000" stroke-width="1.75"/>
<line x1="365.4" y1="278.7" x2="365.4" y2="524.2" stroke="#000" stroke-width="1.5"/>
<line x1="361.7" y1="289.6" x2="365.4" y2="289.6" stroke="#000" stroke-width="1.5"/>
<text x="359.0" y="293.40000000000003" text-anchor="end" class="tl" letter-spacing="-0.3">0.10</text>
<line x1="361.7" y1="345.2" x2="365.4" y2="345.2" stroke="#000" stroke-width="1.5"/>
<text x="359.0" y="349.0" text-anchor="end" class="tl" letter-spacing="-0.3">0.05</text>
<line x1="361.7" y1="400.8" x2="365.4" y2="400.8" stroke="#000" stroke-width="1.5"/>
<text x="359.0" y="404.6" text-anchor="end" class="tl" letter-spacing="-0.3">0.00</text>
<line x1="361.7" y1="456.40000000000003" x2="365.4" y2="456.40000000000003" stroke="#000" stroke-width="1.5"/>
<text x="359.0" y="460.20000000000005" text-anchor="end" class="tl" letter-spacing="-0.3">−0.05</text>
<line x1="361.7" y1="512.0" x2="365.4" y2="512.0" stroke="#000" stroke-width="1.5"/>
<text x="359.0" y="515.8" text-anchor="end" class="tl" letter-spacing="-0.3">−0.10</text>
<line x1="364.65" y1="523.5" x2="593" y2="523.5" stroke="#000" stroke-width="1.5"/>
<line x1="392" y1="523.5" x2="392" y2="527.2" stroke="#000" stroke-width="1.5"/>
<text x="392" y="537.2" text-anchor="middle" class="tl">−2</text>
<line x1="451" y1="523.5" x2="451" y2="527.2" stroke="#000" stroke-width="1.5"/>
<text x="451" y="537.2" text-anchor="middle" class="tl">−1</text>
<line x1="510" y1="523.5" x2="510" y2="527.2" stroke="#000" stroke-width="1.5"/>
<text x="510" y="537.2" text-anchor="middle" class="tl">0</text>
<line x1="569" y1="523.5" x2="569" y2="527.2" stroke="#000" stroke-width="1.5"/>
<text x="569" y="537.2" text-anchor="middle" class="tl">1</text>
<text x="569.9" y="296" text-anchor="end" class="pv">P &lt; 0.001</text>
<text x="339.8" y="275.2" class="pl" letter-spacing="0.9">(d)</text>
<text transform="translate(314.2,403.2) rotate(-90)" text-anchor="middle" class="yt">Rarefied interaction evenness of</text>
<text transform="translate(330.2,403.3) rotate(-90)" text-anchor="middle" class="yt">plant-flower visitor networks</text>
<text x="186" y="561" class="xt">The proportion of</text>
<text x="319" y="561" class="xt" font-style="italic">Euphorbia</text>
<text x="407" y="561" class="xt">flowers</text>
</svg></body></html>
